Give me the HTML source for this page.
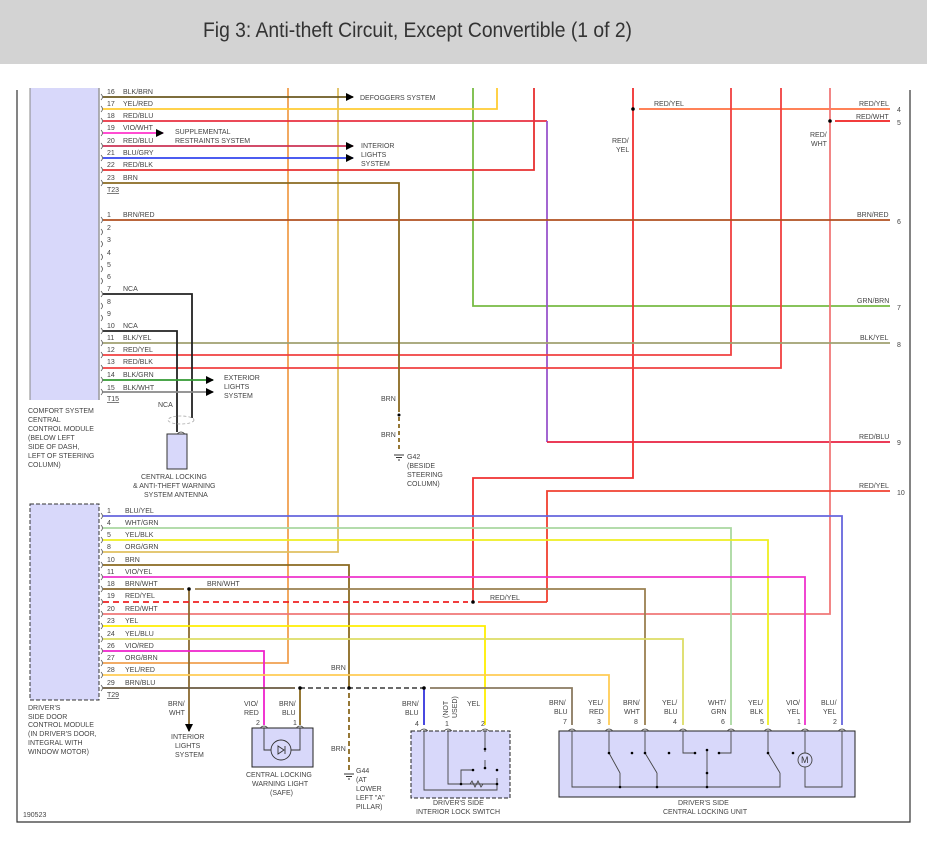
<!DOCTYPE html>
<html><head><meta charset="utf-8"><style>
body{margin:0;background:#fff;width:927px;height:846px;overflow:hidden}
svg{display:block}
text{font-family:"Liberation Sans",sans-serif;font-size:7px;fill:#444}
.t{font-family:"Liberation Sans Narrow","Liberation Sans",sans-serif;font-size:21px;fill:#333}
</style></head><body>
<svg width="927" height="846" viewBox="0 0 927 846" xmlns="http://www.w3.org/2000/svg">
<defs>
<marker id="ar" markerWidth="8" markerHeight="8" refX="7" refY="4" orient="auto" markerUnits="userSpaceOnUse"><path d="M0,0 L8,4 L0,8 z" fill="#000"/></marker>
</defs>
<rect x="0" y="0" width="927" height="64" fill="#d3d3d3"/>
<text class="t" x="203" y="37" textLength="429" lengthAdjust="spacingAndGlyphs">Fig 3: Anti-theft Circuit, Except Convertible (1 of 2)</text>
<!-- frame -->
<path d="M17,90 V822 H910 V90" fill="none" stroke="#333" stroke-width="1.2"/>
<!-- modules -->
<rect x="30" y="88" width="69" height="312" fill="#d8d8fa" stroke="none"/>
<line x1="30" y1="88" x2="30" y2="400" stroke="#888" stroke-width="1"/>
<line x1="99" y1="88" x2="99" y2="400" stroke="#999" stroke-width="1.5"/>
<rect x="30" y="504" width="69" height="196" fill="#d8d8fa" stroke="#333" stroke-width="1" stroke-dasharray="4,2"/>
<g fill="none" stroke-width="1.8">
<polyline points="288,88 288,663 103,663" stroke="#f0a050"/>
<polyline points="338,88 338,552 103,552" stroke="#e0c060"/>
<polyline points="473,88 473,306 890,306" stroke="#77bb44"/>
<polyline points="497,88 497,109 103,109" stroke="#ffcc33"/>
<polyline points="534,88 534,170 103,170" stroke="#e83030"/>
<polyline points="103,121 547,121" stroke="#e83040"/>
<polyline points="547,121 547,442" stroke="#9955cc"/>
<polyline points="547,442 890,442" stroke="#e82040"/>
<polyline points="633,88 633,478 473,478 473,602" stroke="#f03030"/>
<polyline points="639,109 890,109" stroke="#ff7040"/>
<polyline points="731,88 731,355 103,355" stroke="#f04040"/>
<polyline points="781,88 781,368 103,368" stroke="#f04040"/>
<polyline points="830,88 830,614 103,614" stroke="#f07878"/>
<polyline points="835,121 890,121" stroke="#f02020"/>
<polyline points="103,220 890,220" stroke="#b05020"/>
<polyline points="103,343 890,343" stroke="#a0a070"/>
<polyline points="547,602 547,491 890,491" stroke="#f04030"/>
<polyline points="478,602 547,602" stroke="#f04030"/>
<line x1="103" y1="97" x2="353" y2="97" stroke="#6b5a20" marker-end="url(#ar)"/>
<line x1="103" y1="133" x2="163" y2="133" stroke="#ff33cc" marker-end="url(#ar)"/>
<line x1="103" y1="146" x2="353" y2="146" stroke="#cc3355" marker-end="url(#ar)"/>
<line x1="103" y1="158" x2="353" y2="158" stroke="#3344ee" marker-end="url(#ar)"/>
<polyline points="103,183 399,183 399,412" stroke="#8a6a20"/>
<line x1="399" y1="417" x2="399" y2="452" stroke="#8a6a20" stroke-dasharray="4,3"/>
<polyline points="103,294 192,294 192,418" stroke="#222"/>
<polyline points="103,331 177,331 177,432" stroke="#222"/>
<line x1="103" y1="380" x2="213" y2="380" stroke="#339933" marker-end="url(#ar)"/>
<line x1="103" y1="392" x2="213" y2="392" stroke="#888" marker-end="url(#ar)"/>
<polyline points="103,516 842,516 842,725" stroke="#6666dd"/>
<polyline points="103,528 731,528 731,725" stroke="#aad8a0"/>
<polyline points="103,540 768,540 768,725" stroke="#eeee22"/>
<polyline points="103,565 349,565 349,688" stroke="#8a6a20"/>
<line x1="349" y1="693" x2="349" y2="770" stroke="#8a6a20" stroke-dasharray="5,3"/>
<polyline points="103,577 805,577 805,725" stroke="#ee33cc"/>
<polyline points="103,589 184,589" stroke="#8a6a30"/>
<polyline points="195,589 645,589 645,725" stroke="#9a8050"/>
<line x1="189" y1="589" x2="189" y2="731" stroke="#8a6a30" marker-end="url(#ar)"/>
<line x1="103" y1="602" x2="468" y2="602" stroke="#ee2222" stroke-dasharray="6,4"/>
<polyline points="103,626 485,626 485,725" stroke="#ffee00"/>
<polyline points="103,639 683,639 683,725" stroke="#dddd66"/>
<polyline points="103,651 264,651 264,725" stroke="#ee22cc"/>
<polyline points="103,675 609,675 609,725" stroke="#ffcc55"/>
<polyline points="103,688 295,688" stroke="#6a5a40"/>
<line x1="300" y1="688" x2="424" y2="688" stroke="#555" stroke-dasharray="5,3"/>
<polyline points="430,688 572,688 572,725" stroke="#8a7a60"/>
<line x1="300" y1="688" x2="300" y2="725" stroke="#8a6a20"/>
<line x1="424" y1="688" x2="424" y2="725" stroke="#3333dd"/>
</g>
<g fill="#000">
<circle cx="633" cy="109" r="1.8"/><circle cx="830" cy="121" r="1.8"/><circle cx="399" cy="415" r="1.5"/>
<circle cx="189" cy="589" r="1.8"/><circle cx="473" cy="602" r="1.8"/><circle cx="300" cy="688" r="1.8"/><circle cx="349" cy="688" r="1.8"/><circle cx="424" cy="688" r="1.8"/>
</g>
<g fill="none" stroke="#555" stroke-width="0.8">
<path d="M101,94 q3,3 0,6 M101,106 q3,3 0,6 M101,118 q3,3 0,6 M101,130 q3,3 0,6 M101,143 q3,3 0,6 M101,155 q3,3 0,6 M101,167 q3,3 0,6 M101,180 q3,3 0,6 M101,217 q3,3 0,6 M101,229 q3,3 0,6 M101,241 q3,3 0,6 M101,254 q3,3 0,6 M101,266 q3,3 0,6 M101,278 q3,3 0,6 M101,291 q3,3 0,6 M101,303 q3,3 0,6 M101,315 q3,3 0,6 M101,328 q3,3 0,6 M101,340 q3,3 0,6 M101,352 q3,3 0,6 M101,365 q3,3 0,6 M101,377 q3,3 0,6 M101,389 q3,3 0,6"/>
<path d="M101,513 q3,3 0,6 M101,525 q3,3 0,6 M101,537 q3,3 0,6 M101,549 q3,3 0,6 M101,562 q3,3 0,6 M101,574 q3,3 0,6 M101,586 q3,3 0,6 M101,599 q3,3 0,6 M101,611 q3,3 0,6 M101,623 q3,3 0,6 M101,636 q3,3 0,6 M101,648 q3,3 0,6 M101,660 q3,3 0,6 M101,672 q3,3 0,6 M101,685 q3,3 0,6"/>
</g>
<g>
<text x="107" y="94">16</text><text x="123" y="94">BLK/BRN</text>
<text x="107" y="106">17</text><text x="123" y="106">YEL/RED</text>
<text x="107" y="118">18</text><text x="123" y="118">RED/BLU</text>
<text x="107" y="130">19</text><text x="123" y="130">VIO/WHT</text>
<text x="107" y="143">20</text><text x="123" y="143">RED/BLU</text>
<text x="107" y="155">21</text><text x="123" y="155">BLU/GRY</text>
<text x="107" y="167">22</text><text x="123" y="167">RED/BLK</text>
<text x="107" y="180">23</text><text x="123" y="180">BRN</text>
<text x="107" y="192" text-decoration="underline">T23</text>
<text x="107" y="217">1</text><text x="123" y="217">BRN/RED</text>
<text x="107" y="230">2</text><text x="107" y="242">3</text><text x="107" y="255">4</text><text x="107" y="267">5</text><text x="107" y="279">6</text>
<text x="107" y="291">7</text><text x="123" y="291">NCA</text>
<text x="107" y="304">8</text><text x="107" y="316">9</text>
<text x="107" y="328">10</text><text x="123" y="328">NCA</text>
<text x="107" y="340">11</text><text x="123" y="340">BLK/YEL</text>
<text x="107" y="352">12</text><text x="123" y="352">RED/YEL</text>
<text x="107" y="364">13</text><text x="123" y="364">RED/BLK</text>
<text x="107" y="377">14</text><text x="123" y="377">BLK/GRN</text>
<text x="107" y="390">15</text><text x="123" y="390">BLK/WHT</text>
<text x="107" y="401" text-decoration="underline">T15</text>
<text x="360" y="100">DEFOGGERS SYSTEM</text>
<text x="175" y="134">SUPPLEMENTAL</text><text x="175" y="143">RESTRAINTS SYSTEM</text>
<text x="361" y="148">INTERIOR</text><text x="361" y="157">LIGHTS</text><text x="361" y="166">SYSTEM</text>
<text x="224" y="380">EXTERIOR</text><text x="224" y="389">LIGHTS</text><text x="224" y="398">SYSTEM</text>
<text x="28" y="413">COMFORT SYSTEM</text><text x="28" y="422">CENTRAL</text><text x="28" y="431">CONTROL MODULE</text><text x="28" y="440">(BELOW LEFT</text><text x="28" y="449">SIDE OF DASH,</text><text x="28" y="458">LEFT OF STEERING</text><text x="28" y="467">COLUMN)</text>
<text x="158" y="407">NCA</text>
<text x="141" y="479">CENTRAL LOCKING</text><text x="133" y="488">&amp; ANTI-THEFT WARNING</text><text x="144" y="497">SYSTEM ANTENNA</text>
<text x="381" y="401">BRN</text><text x="381" y="437">BRN</text>
<text x="407" y="459">G42</text><text x="407" y="468">(BESIDE</text><text x="407" y="477">STEERING</text><text x="407" y="486">COLUMN)</text>
<text x="654" y="106">RED/YEL</text><text x="612" y="143">RED/</text><text x="616" y="152">YEL</text>
<text x="810" y="137">RED/</text><text x="811" y="146">WHT</text>
<text x="859" y="106">RED/YEL</text><text x="897" y="112">4</text>
<text x="856" y="119">RED/WHT</text><text x="897" y="125">5</text>
<text x="857" y="217">BRN/RED</text><text x="897" y="224">6</text>
<text x="857" y="303">GRN/BRN</text><text x="897" y="310">7</text>
<text x="860" y="340">BLK/YEL</text><text x="897" y="347">8</text>
<text x="859" y="439">RED/BLU</text><text x="897" y="445">9</text>
<text x="859" y="488">RED/YEL</text><text x="897" y="495">10</text>
<text x="490" y="600">RED/YEL</text>
</g>
<g>
<text x="107" y="513">1</text><text x="125" y="513">BLU/YEL</text>
<text x="107" y="525">4</text><text x="125" y="525">WHT/GRN</text>
<text x="107" y="537">5</text><text x="125" y="537">YEL/BLK</text>
<text x="107" y="549">8</text><text x="125" y="549">ORG/GRN</text>
<text x="107" y="562">10</text><text x="125" y="562">BRN</text>
<text x="107" y="574">11</text><text x="125" y="574">VIO/YEL</text>
<text x="107" y="586">18</text><text x="125" y="586">BRN/WHT</text><text x="207" y="586">BRN/WHT</text>
<text x="107" y="598">19</text><text x="125" y="598">RED/YEL</text>
<text x="107" y="611">20</text><text x="125" y="611">RED/WHT</text>
<text x="107" y="623">23</text><text x="125" y="623">YEL</text>
<text x="107" y="636">24</text><text x="125" y="636">YEL/BLU</text>
<text x="107" y="648">26</text><text x="125" y="648">VIO/RED</text>
<text x="107" y="660">27</text><text x="125" y="660">ORG/BRN</text>
<text x="107" y="672">28</text><text x="125" y="672">YEL/RED</text>
<text x="107" y="685">29</text><text x="125" y="685">BRN/BLU</text>
<text x="107" y="697" text-decoration="underline">T29</text>
<text x="331" y="670">BRN</text>
<text x="28" y="710">DRIVER'S</text><text x="28" y="719">SIDE DOOR</text><text x="28" y="727">CONTROL MODULE</text><text x="28" y="736">(IN DRIVER'S DOOR,</text><text x="28" y="745">INTEGRAL WITH</text><text x="28" y="754">WINDOW MOTOR)</text>
<text x="168" y="706">BRN/</text><text x="169" y="715">WHT</text>
<text x="171" y="739">INTERIOR</text><text x="175" y="748">LIGHTS</text><text x="175" y="757">SYSTEM</text>
<text x="244" y="706">VIO/</text><text x="244" y="715">RED</text><text x="256" y="725">2</text>
<text x="279" y="706">BRN/</text><text x="282" y="715">BLU</text><text x="293" y="725">1</text>
<text x="246" y="777">CENTRAL LOCKING</text><text x="252" y="786">WARNING LIGHT</text><text x="270" y="795">(SAFE)</text>
<text x="331" y="751">BRN</text>
<text x="356" y="773">G44</text><text x="356" y="782">(AT</text><text x="356" y="791">LOWER</text><text x="356" y="800">LEFT "A"</text><text x="356" y="809">PILLAR)</text>
<text x="402" y="706">BRN/</text><text x="405" y="715">BLU</text><text x="415" y="726">4</text>
<text x="445" y="726">1</text><text x="481" y="726">2</text><text x="467" y="706">YEL</text>
<text transform="translate(448,718) rotate(-90)">(NOT</text><text transform="translate(457,718) rotate(-90)">USED)</text>
<text x="433" y="805">DRIVER'S SIDE</text><text x="416" y="814">INTERIOR LOCK SWITCH</text>
<text x="23" y="817">190523</text>
<text x="549" y="705">BRN/</text><text x="554" y="714">BLU</text><text x="563" y="724">7</text>
<text x="588" y="705">YEL/</text><text x="589" y="714">RED</text><text x="597" y="724">3</text>
<text x="623" y="705">BRN/</text><text x="624" y="714">WHT</text><text x="634" y="724">8</text>
<text x="662" y="705">YEL/</text><text x="664" y="714">BLU</text><text x="673" y="724">4</text>
<text x="708" y="705">WHT/</text><text x="711" y="714">GRN</text><text x="721" y="724">6</text>
<text x="748" y="705">YEL/</text><text x="750" y="714">BLK</text><text x="760" y="724">5</text>
<text x="786" y="705">VIO/</text><text x="787" y="714">YEL</text><text x="797" y="724">1</text>
<text x="821" y="705">BLU/</text><text x="823" y="714">YEL</text><text x="833" y="724">2</text>
<text x="678" y="805">DRIVER'S SIDE</text><text x="663" y="814">CENTRAL LOCKING UNIT</text>
</g>
<ellipse cx="181" cy="420" rx="13" ry="4" fill="none" stroke="#aaa" stroke-width="0.8" stroke-dasharray="3,2"/>
<rect x="167" y="434" width="20" height="35" fill="#d8d8fa" stroke="#333" stroke-width="1"/>
<g stroke="#000" stroke-width="0.8">
<line x1="394" y1="455" x2="404" y2="455"/><line x1="396" y1="457.5" x2="402" y2="457.5"/><line x1="398" y1="460" x2="400" y2="460"/>
<line x1="344" y1="774" x2="354" y2="774"/><line x1="346" y1="776.5" x2="352" y2="776.5"/><line x1="348" y1="779" x2="350" y2="779"/>
</g>
<rect x="252" y="728" width="61" height="39" fill="#d8d8fa" stroke="#222" stroke-width="1"/>
<g fill="none" stroke="#333" stroke-width="0.9">
<polyline points="264,728 264,750 300,750 300,728"/>
<circle cx="281" cy="750" r="10" fill="#d8d8fa"/>
<path d="M278,746 L284,750 L278,754 z M285,746 V754"/>
</g>
<rect x="411" y="731" width="99" height="67" fill="#d8d8fa" stroke="#222" stroke-width="1" stroke-dasharray="4,2"/>
<g fill="none" stroke="#444" stroke-width="0.9">
<polyline points="424,731 424,790 497,790 497,778"/>
<polyline points="448,731 448,784 497,784"/>
<polyline points="485,731 485,752"/><line x1="485" y1="760" x2="485" y2="768"/>
<polyline points="461,784 461,770 473,770"/>
<path d="M470,784 l2,-3 l3,6 l3,-6 l3,6 l2,-3"/>
</g>
<g fill="#000"><circle cx="485" cy="749" r="1.3"/><circle cx="485" cy="768" r="1.3"/><circle cx="473" cy="770" r="1.3"/><circle cx="497" cy="770" r="1.3"/><circle cx="461" cy="784" r="1.3"/><circle cx="497" cy="784" r="1.3"/></g>
<rect x="559" y="731" width="296" height="66" fill="#d8d8fa" stroke="#222" stroke-width="1"/>
<g fill="none" stroke="#444" stroke-width="0.9">
<polyline points="572,731 572,787 780,787 780,773"/>
<polyline points="609,731 609,753 620,773"/><line x1="620" y1="773" x2="620" y2="787"/>
<polyline points="645,731 645,753 657,773"/><line x1="657" y1="773" x2="657" y2="787"/>
<polyline points="683,731 683,753 695,753"/>
<polyline points="731,731 731,753 719,753"/>
<line x1="707" y1="750" x2="707" y2="787"/>
<polyline points="768,731 768,753 780,773"/>
<polyline points="805,731 805,787 842,787 842,731"/>
<circle cx="805" cy="760" r="7" fill="#d8d8fa"/>
</g>
<text x="801" y="763" style="font-size:9px;fill:#333">M</text>
<g fill="#000"><circle cx="632" cy="753" r="1.3"/><circle cx="669" cy="753" r="1.3"/><circle cx="695" cy="753" r="1.3"/><circle cx="707" cy="750" r="1.3"/><circle cx="719" cy="753" r="1.3"/><circle cx="793" cy="753" r="1.3"/><circle cx="620" cy="787" r="1.3"/><circle cx="657" cy="787" r="1.3"/><circle cx="707" cy="787" r="1.3"/><circle cx="707" cy="773" r="1.3"/><circle cx="609" cy="753" r="1.3"/><circle cx="645" cy="753" r="1.3"/><circle cx="768" cy="753" r="1.3"/></g>
<g fill="none" stroke="#444" stroke-width="0.8">
<path d="M260,728 q4,-4 8,0 M296,728 q4,-4 8,0 M420,731 q4,-4 8,0 M444,731 q4,-4 8,0 M481,731 q4,-4 8,0 M568,731 q4,-4 8,0 M605,731 q4,-4 8,0 M641,731 q4,-4 8,0 M679,731 q4,-4 8,0 M727,731 q4,-4 8,0 M764,731 q4,-4 8,0 M801,731 q4,-4 8,0 M838,731 q4,-4 8,0 M177,434 q4,-4 8,0"/>
</g>
</svg>
</body></html>
